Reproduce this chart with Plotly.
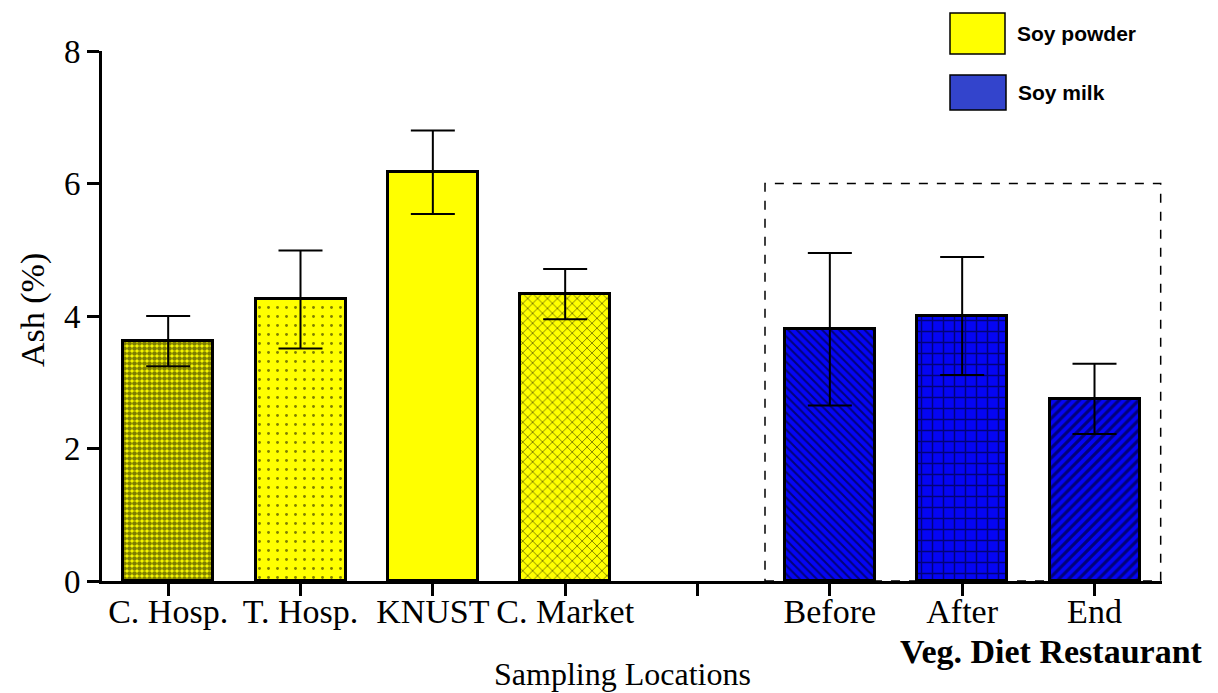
import plotly.graph_objects as go

# Ash content by sampling location
locations = ["C. Hosp.", "T. Hosp.", "KNUST", "C. Market", "", "Before", "After", "End"]
powder_names = ["C. Hosp.", "T. Hosp.", "KNUST", "C. Market"]
powder_ash = [3.62, 4.25, 6.17, 4.33]
powder_err = [0.38, 0.74, 0.63, 0.38]
milk_names = ["Before", "After", "End"]
milk_ash = [3.80, 4.00, 2.75]
milk_err = [1.15, 0.89, 0.53]

YELLOW = "#FFFF00"
BLUE = "#0505F5"
serif = "Liberation Serif, Times New Roman, serif"
sans = "Liberation Sans, Arial, sans-serif"

powder_patterns = [
    dict(shape=".", size=5, solidity=0.7, fgcolor="black"),
    dict(shape=".", size=9, solidity=0.08, fgcolor="black"),
    dict(shape="", fgcolor="black"),
    dict(shape="x", size=7, solidity=0.25, fgcolor="black"),
]
milk_patterns = [
    dict(shape="\\", size=6, solidity=0.35, fgcolor="black"),
    dict(shape="+", size=11, solidity=0.25, fgcolor="black"),
    dict(shape="/", size=7, solidity=0.45, fgcolor="black"),
]

pos = {name: i for i, name in enumerate(locations) if name}

fig = go.Figure()

for names, vals, errs, color, pats in [
    (powder_names, powder_ash, powder_err, YELLOW, powder_patterns),
    (milk_names, milk_ash, milk_err, BLUE, milk_patterns),
]:
    for n, v, e, p in zip(names, vals, errs, pats):
        fig.add_trace(go.Bar(
            x=[pos[n]], y=[v], width=0.68,
            marker=dict(color=color, line=dict(color="black", width=3), pattern=p),
            error_y=dict(type="data", array=[e], visible=True, color="black",
                         thickness=2, width=22),
            showlegend=False,
        ))

# dashed frame around the restaurant group
fig.add_shape(type="rect", xref="x", yref="y", x0=4.51, x1=7.5, y0=0, y1=6,
              line=dict(color="black", width=1.5, dash="dash"), layer="below")

# legend swatches
fig.add_shape(type="rect", xref="paper", yref="paper",
              x0=(950 - 102) / 1060, x1=(1005 - 102) / 1060,
              y0=(581 - 54) / 530, y1=(581 - 13) / 530,
              fillcolor=YELLOW, line=dict(color="black", width=1.5))
fig.add_shape(type="rect", xref="paper", yref="paper",
              x0=(950 - 102) / 1060, x1=(1006 - 102) / 1060,
              y0=(581 - 110) / 530, y1=(581 - 75) / 530,
              fillcolor="#3344CC", line=dict(color="black", width=1.5))

ann = [
    dict(text="<b>Soy powder</b>", x=(1015 - 102) / 1060, y=(581 - 33) / 530,
         xanchor="left", yanchor="middle", font=dict(family=sans, size=21, color="black")),
    dict(text="<b>Soy milk</b>", x=(1016 - 102) / 1060, y=(581 - 92) / 530,
         xanchor="left", yanchor="middle", font=dict(family=sans, size=21, color="black")),
    dict(text="<b>Veg. Diet Restaurant</b>", x=(1051 - 102) / 1060, y=(581 - 651) / 530,
         xanchor="center", yanchor="middle", font=dict(family=serif, size=34, color="black")),
    dict(text="Sampling Locations", x=(622 - 102) / 1060, y=(581 - 674) / 530,
         xanchor="center", yanchor="middle", font=dict(family=serif, size=32, color="black")),
    dict(text="Ash (%)", x=(33 - 102) / 1060, y=(581 - 310) / 530, textangle=-90,
         xanchor="center", yanchor="middle", font=dict(family=serif, size=34, color="black")),
]
for a in ann:
    a.update(xref="paper", yref="paper", showarrow=False)
    fig.add_annotation(**a)

fig.update_layout(
    width=1218, height=693,
    margin=dict(l=102, r=56, t=51, b=112),
    paper_bgcolor="white", plot_bgcolor="white",
    bargap=0,
    xaxis=dict(range=[-0.5, 7.51], tickmode="array",
               tickvals=list(range(len(locations))), ticktext=locations,
               showline=True, linecolor="black", linewidth=3,
               ticks="outside", ticklen=12, tickwidth=3, tickcolor="black",
               ticklabelstandoff=-14,
               showgrid=False, zeroline=False,
               tickfont=dict(family=serif, size=34, color="black")),
    yaxis=dict(range=[0, 8], tickvals=[0, 2, 4, 6, 8],
               showline=True, linecolor="black", linewidth=3,
               ticks="outside", ticklen=12, tickwidth=3, tickcolor="black",
               showgrid=False, zeroline=False,
               tickfont=dict(family=serif, size=33, color="black")),
)

fig.write_html("out.html")
